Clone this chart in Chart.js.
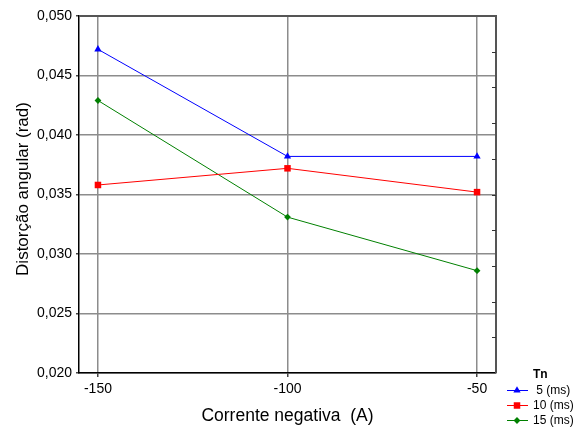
<!DOCTYPE html>
<html><head><meta charset="utf-8">
<script src="https://cdn.jsdelivr.net/npm/chart.js@4/dist/chart.umd.min.js"></script>
<style>html,body{margin:0;padding:0;background:#fff;}#wrap{width:574px;height:427px;position:relative}</style>
</head><body><div id="wrap"><canvas id="c" width="574" height="427"></canvas></div>
<script>
const xValues = [-150, -100, -50];
const xTicks = [-150, -100, -50];
const seriesNames = [' 5 (ms)', '10 (ms)', '15 (ms)'];
const tn5 = [0.0472, 0.0382, 0.0382];
const tn10 = [0.0358, 0.0372, 0.0352];
const tn15 = [0.0429, 0.0331, 0.0286];
const legendTitle = 'Tn';
const xTitle = 'Corrente negativa  (A)';
const yTitle = 'Distorção angular (rad)';

const FONT = '"Liberation Sans", Arial, sans-serif';
const colors = ['#0000ff', '#ff0000', '#008000'];
const styles = [
  {pointStyle: 'triangle', radius: 4.2},
  {pointStyle: 'rect', radius: 4.6},
  {pointStyle: 'rectRot', radius: 3.4}
];
const seriesData = [tn5, tn10, tn15];

const datasets = seriesData.map((vals, i) => ({
  label: seriesNames[i],
  data: xValues.map((x, j) => ({x: x, y: vals[j]})),
  borderColor: colors[i],
  backgroundColor: colors[i],
  borderWidth: 1,
  pointStyle: styles[i].pointStyle,
  pointRadius: styles[i].radius,
  pointHoverRadius: styles[i].radius,
  pointBorderWidth: 0,
  tension: 0,
  yAxisID: 'y'
}));

const framePlugin = {
  id: 'frame',
  afterDraw(chart) {
    const ctx = chart.ctx;
    const a = chart.chartArea;
    ctx.save();
    // top and right borders
    ctx.strokeStyle = '#555';
    ctx.lineWidth = 2;
    ctx.beginPath();
    ctx.moveTo(a.left, a.top);
    ctx.lineTo(a.right, a.top);
    ctx.lineTo(a.right, a.bottom);
    ctx.stroke();
    // inward minor ticks on right axis from y2 scale
    const y2 = chart.scales.y2;
    ctx.strokeStyle = '#333';
    ctx.lineWidth = 1;
    y2.ticks.forEach(t => {
      if (t.value <= y2.min || t.value >= y2.max) return;
      const yy = Math.round(y2.getPixelForValue(t.value)) + 0.5;
      ctx.beginPath();
      ctx.moveTo(a.right - 4, yy);
      ctx.lineTo(a.right, yy);
      ctx.stroke();
    });
    // y axis title
    ctx.save();
    ctx.translate(23, 189);
    ctx.rotate(-Math.PI / 2);
    ctx.fillStyle = '#000';
    ctx.font = '17px ' + FONT;
    ctx.textAlign = 'center';
    ctx.textBaseline = 'middle';
    ctx.fillText(yTitle, 0, 0);
    ctx.restore();
    // legend
    const lx = 533;
    ctx.fillStyle = '#000';
    ctx.textBaseline = 'middle';
    ctx.textAlign = 'left';
    ctx.font = 'bold 12px ' + FONT;
    ctx.fillText(legendTitle, lx, 375);
    ctx.font = '12px ' + FONT;
    chart.data.datasets.forEach((ds, i) => {
      const yy = 390 + i * 15;
      ctx.strokeStyle = ds.borderColor;
      ctx.lineWidth = 1;
      ctx.beginPath();
      ctx.moveTo(507, yy + 0.5);
      ctx.lineTo(528, yy + 0.5);
      ctx.stroke();
      ctx.fillStyle = ds.backgroundColor;
      Chart.helpers.drawPoint(ctx, {pointStyle: ds.pointStyle, radius: ds.pointRadius, rotation: 0, borderWidth: 0}, 517, yy + 0.5);
      ctx.fillStyle = '#000';
      ctx.fillText(ds.label, lx, yy + 1);
    });
    ctx.restore();
  }
};

new Chart(document.getElementById('c'), {
  type: 'line',
  data: {datasets: datasets},
  plugins: [framePlugin],
  options: {
    responsive: false,
    animation: false,
    devicePixelRatio: 1,
    layout: {padding: {top: 16, right: 78, left: 0, bottom: 0}},
    plugins: {legend: {display: false}, tooltip: {enabled: false}},
    scales: {
      x: {
        type: 'linear',
        min: -155,
        max: -45,
        afterBuildTicks: s => { s.ticks = xTicks.map(v => ({value: v})); },
        afterFit: s => { s.height = 54; },
        grid: {color: '#8c8c8c', lineWidth: 1.5, tickLength: 4, tickColor: '#444'},
        border: {color: '#000', width: 1.5},
        ticks: {
          color: '#000', padding: 4,
          font: {family: FONT, size: 14},
          callback: v => String(v)
        },
        title: {display: true, text: xTitle, color: '#000', font: {family: FONT, size: 17.5}, padding: {top: 0, bottom: 0}}
      },
      y: {
        type: 'linear',
        min: 0.020,
        max: 0.050,
        afterFit: s => { s.width = 79; },
        grid: {color: '#8c8c8c', lineWidth: 1.5, tickLength: 3, tickColor: '#444'},
        border: {color: '#000', width: 1.5},
        ticks: {
          stepSize: 0.005, color: '#000', padding: 4,
          font: {family: FONT, size: 14},
          callback: v => Number(v).toFixed(3).replace('.', ',')
        },
        title: {display: false}
      },
      y2: {
        type: 'linear',
        position: 'right',
        min: 0,
        max: 10,
        afterFit: s => { s.width = 0; },
        grid: {display: false, drawOnChartArea: false, drawTicks: false},
        border: {display: false},
        ticks: {display: false, stepSize: 1}
      }
    }
  }
});
</script>
</body></html>
